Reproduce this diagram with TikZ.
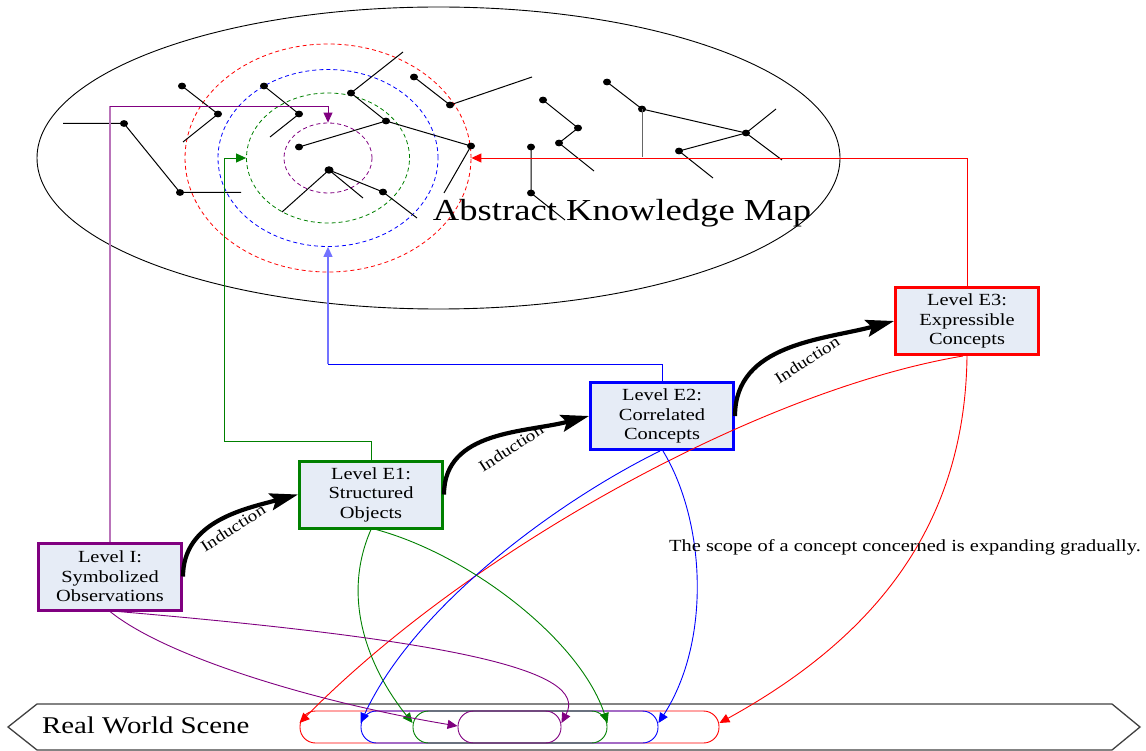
\documentclass[tikz,border=0pt]{standalone}
\usepackage{fontspec}
\setmainfont{Liberation Serif}[FakeStretch=1.2]
\usetikzlibrary{arrows.meta,shapes.geometric}
\definecolor{mgreen}{RGB}{0,128,0}
\definecolor{mpurple}{RGB}{128,0,128}
\definecolor{boxfill}{RGB}{230,236,246}
\definecolor{framegray}{RGB}{64,64,64}
\begin{document}
\begin{tikzpicture}[x=1pt,y=-1pt,
  level/.style={draw,line width=3pt,fill=boxfill,minimum width=143pt,minimum height=67pt,
    align=center,font=\fontsize{17}{19.5}\selectfont,inner sep=0pt},
  ring/.style={draw,ellipse,dash pattern=on 4pt off 3pt,inner sep=0pt,line width=0.8pt},
  dot/.style={ellipse,fill=black,inner sep=0pt,minimum width=8pt,minimum height=6.8pt},
  lnk/.style={line width=0.9pt,-{Triangle[length=10pt,width=9pt]}},
  ind/.style={line width=4.2pt,-{Stealth[length=28pt,width=17pt,inset=5pt]}},
  indlab/.style={font=\fontsize{16}{18}\selectfont,rotate=33,inner sep=0pt},
  stad/.style={draw,line width=0.9pt,rounded corners=15.5pt,minimum height=32pt,inner sep=0pt},
  tree/.style={line width=1pt,black}
]
\useasboundingbox (0,0) rectangle (1146,751);

% ---------- knowledge map ----------
\node[draw,ellipse,line width=0.9pt,minimum width=803pt,minimum height=302pt,inner sep=0pt] (map) at (438.5,158) {};
\node[ring,draw=red,minimum width=286pt,minimum height=228pt] (rEll) at (328,158) {};
\node[ring,draw=blue,minimum width=220pt,minimum height=177pt] (bEll) at (328,158) {};
\node[ring,draw=mgreen,minimum width=163pt,minimum height=130pt] (gEll) at (328,158) {};
\node[ring,draw=mpurple,minimum width=88pt,minimum height=70pt] (pEll) at (328,158) {};

% tree A
\coordinate (a0) at (63,123.5);
\node[dot] (a1) at (124,123.5) {};
\node[dot] (a2) at (180,192.5) {};
\coordinate (a3) at (241,192.5);
\draw[tree] (a0) -- (a1.center) -- (a2.center) -- (a3);
% tree B
\node[dot] (b1) at (182,86) {};
\node[dot] (b2) at (218,114) {};
\coordinate (b3) at (183,142);
\draw[tree] (b1.center) -- (b2.center) -- (b3);
% tree C
\node[dot] (c1) at (264,86) {};
\node[dot] (c2) at (299,114) {};
\coordinate (c3) at (270,137);
\draw[tree] (c1.center) -- (c2.center) -- (c3);
% tree D
\coordinate (d0) at (403,52);
\node[dot] (d1) at (351,93) {};
\node[dot] (d2) at (386,121) {};
\node[dot] (d3) at (299,147) {};
\node[dot] (d4) at (471,146) {};
\coordinate (d5) at (444,193);
\draw[tree] (d0) -- (d1.center) -- (d2.center) -- (d3.center);
\draw[tree] (d2.center) -- (d4.center) -- (d5);
% tree E
\node[dot] (e1) at (414,77) {};
\node[dot] (e2) at (450,105) {};
\coordinate (e3) at (532,77);
\draw[tree] (e1.center) -- (e2.center) -- (e3);
% tree F
\node[dot,minimum width=9pt,minimum height=7.5pt] (f1) at (329,170) {};
\coordinate (f2) at (282,212);
\coordinate (f3) at (363,198);
\node[dot] (f4) at (383,192) {};
\coordinate (f5) at (417,218);
\draw[tree] (f2) -- (f1.center) -- (f3);
\draw[tree] (f1.center) -- (f4.center) -- (f5);
% tree G
\node[dot] (g1) at (531,147) {};
\node[dot] (g2) at (531,193) {};
\coordinate (g3) at (565,220);
\draw[tree] (g1.center) -- (g2.center) -- (g3);
% tree H
\node[dot] (h1) at (543,100) {};
\node[dot] (h2) at (578,128) {};
\node[dot] (h3) at (559,143) {};
\coordinate (h4) at (594,171);
\draw[tree] (h1.center) -- (h2.center) -- (h3.center) -- (h4);
% tree I
\node[dot] (i1) at (607,82) {};
\node[dot] (i2) at (642,109) {};
\coordinate (i3) at (642,157);
\node[dot] (i4) at (746,133) {};
\coordinate (i5) at (776,109);
\coordinate (i6) at (782,160);
\node[dot] (i7) at (679,151) {};
\coordinate (i8) at (713,178);
\draw[tree] (i1.center) -- (i2.center) -- (i4.center);
\draw[tree,black!60] (i2.center) -- (i3);
\draw[tree] (i5) -- (i4.center) -- (i6);
\draw[tree] (i4.center) -- (i7.center) -- (i8);

\node[font=\fontsize{30.5}{34}\selectfont,anchor=base,inner sep=0pt] (maptitle) at (622,221) {Abstract Knowledge Map};

% ---------- level boxes ----------
\node[level,draw=mpurple] (I) at (110,576.5) {Level I:\\Symbolized\\Observations};
\node[level,draw=mgreen] (E1) at (371,494.5) {Level E1:\\Structured\\Objects};
\node[level,draw=blue] (E2) at (662,416) {Level E2:\\Correlated\\Concepts};
\node[level,draw=red] (E3) at (967,321) {Level E3:\\Expressible\\Concepts};

% induction arrows
\draw[ind] (I.east) to[out=90,in=195] (E1.west);
\draw[ind] (E1.east) to[out=90,in=195] (E2.west);
\draw[ind] (E2.east) to[out=90,in=195] (E3.west);
\node[indlab] (l1) at (233,528) {Induction};
\node[indlab] (l2) at (511,448) {Induction};
\node[indlab] (l3) at (807,360) {Induction};

% connectors to the rings
\coordinate (pturn) at (110,106);
\draw[mpurple!55,line width=1.2pt] (I.north) -- (pturn);
\draw[lnk,mpurple] (pturn) -| (pEll.north);
\coordinate (gturn) at (371,441);
\coordinate (gturn2) at (224,441);
\draw[lnk,mgreen] (E1.north) -- (gturn) -- (gturn2) |- (gEll.west);
\coordinate (bturn) at (662,364);
\coordinate (bturn2) at (328,364);
\draw[blue,line width=0.9pt] (E2.north) -- (bturn) -- (bturn2);
\draw[lnk,blue!55,line width=1.2pt] (bturn2) -- (bEll.south);
\draw[lnk,red] (E3.north) |- (rEll.east);

% ---------- real world scene ----------
\draw[framegray,line width=1.3pt] (8,727) -- (37,704) -- (1112,704) -- (1140,727) -- (1112,750) -- (37,750) -- cycle;
\node[font=\fontsize{24}{28}\selectfont,anchor=base west,inner sep=0pt] (rws) at (42,733) {Real World Scene};
\node[stad,draw=red,minimum width=419pt] (rS) at (509.5,727) {};
\node[stad,draw=blue,minimum width=297pt] (bS) at (509.5,727) {};
\node[stad,draw=mgreen,minimum width=194pt] (gS) at (510,727) {};
\node[stad,draw=mpurple,minimum width=103pt] (pS) at (509.5,727) {};

% connectors to the scene
\draw[lnk,red] ([xshift=-4pt]E3.south) .. controls (760,390) and (470,550) .. ([yshift=4pt]rS.west);
\draw[lnk,red] (E3.south) .. controls (965,530) and (870,640) .. ([yshift=4pt]rS.east);
\draw[lnk,blue] ([xshift=-2pt]E2.south) .. controls (560,500) and (415,605) .. ([yshift=4pt]bS.west);
\draw[lnk,blue] ([xshift=1pt]E2.south) .. controls (705,520) and (712,640) .. ([yshift=4pt]bS.east);
\draw[lnk,mgreen] (E1.south) .. controls (340,600) and (370,670) .. ([yshift=4pt]gS.west);
\draw[lnk,mgreen] ([xshift=5pt]E1.south) .. controls (470,555) and (580,640) .. ([yshift=4pt]gS.east);
\draw[lnk,mpurple] (I.south) .. controls (170,660) and (330,705) .. ([yshift=1pt]pS.west);
\draw[lnk,mpurple] ([xshift=8pt]I.south) .. controls (450,640) and (590,670) .. ([yshift=4pt]pS.east);

\node[font=\fontsize{17}{19.5}\selectfont,inner sep=0pt,anchor=base] (scope) at (905,551) {The scope of a concept concerned is expanding gradually.};
\end{tikzpicture}
\end{document}
